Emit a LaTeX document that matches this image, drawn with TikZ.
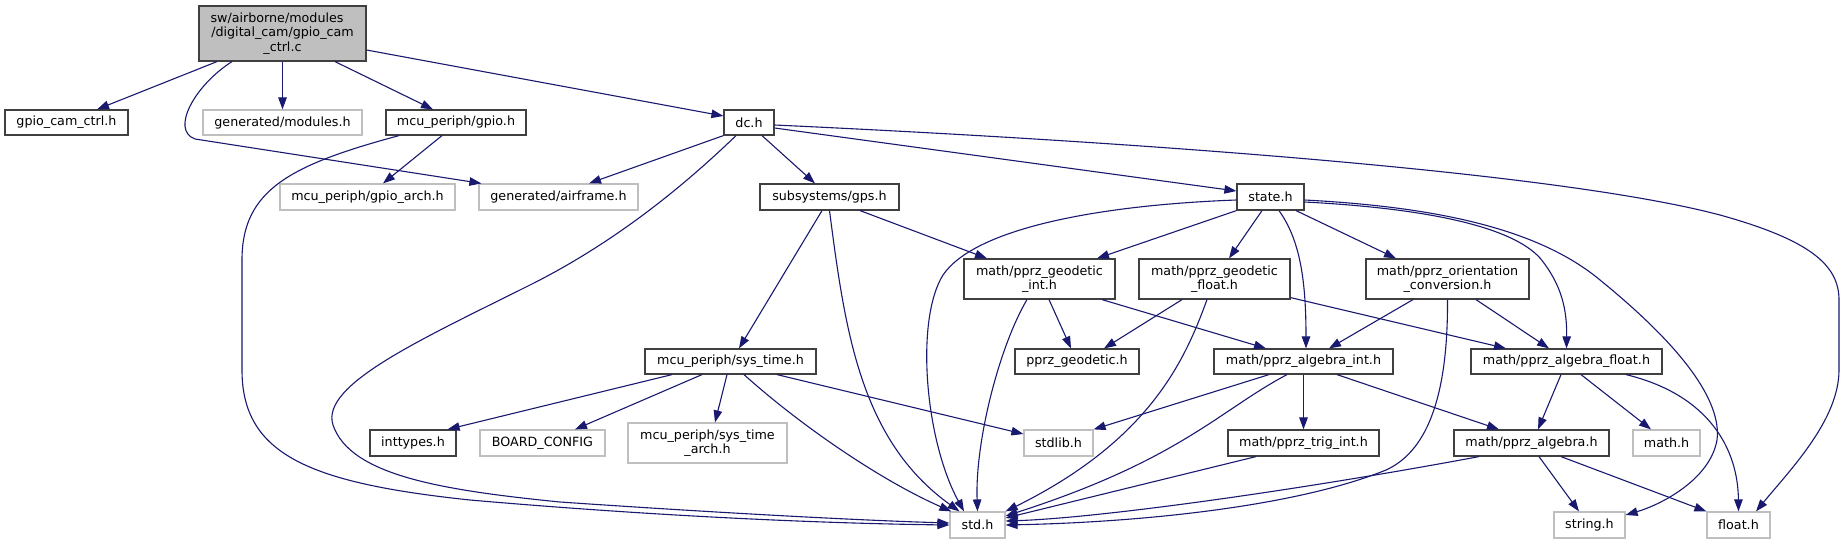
\documentclass[tikz,border=0pt]{standalone}
\usepackage{fontspec}
\setmainfont{DejaVu Sans}
\usetikzlibrary{arrows.meta}
\definecolor{edgec}{RGB}{25,25,112}
\definecolor{grayb}{RGB}{191,191,191}
\definecolor{boxb}{RGB}{64,64,64}
\begin{document}
\begin{tikzpicture}[x=1pt,y=-1pt,
  box/.style={draw=boxb,line width=1.2pt,inner sep=0pt,align=center,font=\fontsize{12.7}{14.5}\selectfont},
  gbox/.style={box,draw=grayb},
  mainbox/.style={box,fill=grayb},
  edge/.style={draw=edgec,line width=1.1pt,-{Triangle[length=12pt,width=8.5pt]}},
]
\useasboundingbox[fill=white] (0,0) rectangle (1845,544);
% nodes
\node[mainbox,minimum width=167pt,minimum height=55pt] (main) at (282.5,33.5) {\hspace*{-11pt}sw/airborne/modules\\/digital\_cam/gpio\_cam\\\_ctrl.c};
\node[box,minimum width=123pt,minimum height=25pt] (gcc) at (66.5,122.5) {gpio\_cam\_ctrl.h};
\node[gbox,minimum width=159pt,minimum height=25pt] (mods) at (282.5,122.5) {generated/modules.h};
\node[box,minimum width=140pt,minimum height=25pt] (gpio) at (456,122.5) {mcu\_periph/gpio.h};
\node[box,minimum width=50pt,minimum height=25pt] (dc) at (749,122.5) {dc.h};
\node[gbox,minimum width=175pt,minimum height=26pt] (garch) at (367.5,197) {mcu\_periph/gpio\_arch.h};
\node[gbox,minimum width=159pt,minimum height=26pt] (air) at (558.5,197) {generated/airframe.h};
\node[box,minimum width=139pt,minimum height=26pt] (gps) at (829.5,197) {subsystems/gps.h};
\node[box,minimum width=67pt,minimum height=26pt] (state) at (1270.5,197) {state.h};
\node[box,minimum width=151pt,minimum height=40pt] (gint) at (1039.5,279) {math/pprz\_geodetic\\\_int.h};
\node[box,minimum width=151pt,minimum height=40pt] (gflt) at (1214.5,279) {math/pprz\_geodetic\\\_float.h};
\node[box,minimum width=163pt,minimum height=40pt] (orient) at (1447.5,279) {math/pprz\_orientation\\\_conversion.h};
\node[box,minimum width=171pt,minimum height=25pt] (systime) at (730.5,361.5) {mcu\_periph/sys\_time.h};
\node[box,minimum width=124pt,minimum height=25pt] (pgeo) at (1077,361.5) {pprz\_geodetic.h};
\node[box,minimum width=179pt,minimum height=25pt] (aint) at (1303.5,361.5) {math/pprz\_algebra\_int.h};
\node[box,minimum width=191pt,minimum height=25pt] (aflt) at (1566.5,361.5) {math/pprz\_algebra\_float.h};
\node[box,minimum width=86pt,minimum height=26pt] (intt) at (413,443) {inttypes.h};
\node[gbox,minimum width=125pt,minimum height=26pt] (board) at (542.5,443) {BOARD\_CONFIG};
\node[gbox,minimum width=159pt,minimum height=40pt] (starch) at (707.5,443) {mcu\_periph/sys\_time\\\_arch.h};
\node[gbox,minimum width=69pt,minimum height=26pt] (stdlib) at (1058.5,443) {stdlib.h};
\node[box,minimum width=151pt,minimum height=26pt] (trig) at (1303.5,443) {math/pprz\_trig\_int.h};
\node[box,minimum width=155pt,minimum height=26pt] (alg) at (1531.5,443) {math/pprz\_algebra.h};
\node[gbox,minimum width=67pt,minimum height=26pt] (mathh) at (1666.5,443) {math.h};
\node[gbox,minimum width=55pt,minimum height=26pt] (std) at (977.5,525) {std.h};
\node[gbox,minimum width=71pt,minimum height=26pt] (str) at (1589.5,525) {string.h};
\node[gbox,minimum width=63pt,minimum height=26pt] (flt) at (1738.5,525) {float.h};
% edges from main
\draw[edge] ([xshift=-65.5pt]main.south) -- ([xshift=30.5pt]gcc.north);
\draw[edge] (main.south) -- (mods.north);
\draw[edge] ([xshift=52.5pt]main.south) -- ([xshift=-23pt]gpio.north);
\draw[edge] ([yshift=-16.5pt]main.east) -- ([yshift=6.5pt]dc.west);
\draw[edge] ([xshift=-50.5pt]main.south) .. controls (195,85) and (170,130) .. (195,139) -- ([xshift=3pt]air.north west);
% gpio
\draw[edge] ([xshift=-14pt]gpio.south) -- ([xshift=15.5pt]garch.north);
\draw[edge] ([xshift=-57pt]gpio.south) .. controls (290,165) and (242,190) .. (242,260) -- (242,370) .. controls (242,455) and (310,483) .. (470,500) .. controls (700,520) and (870,524) .. (std.west);
% dc
\draw[edge] (dc.south west) -- ([xshift=30.5pt]air.north);
\draw[edge] ([xshift=-13pt]dc.south) .. controls (690,180) and (620,240) .. (530,285) .. controls (420,340) and (320,385) .. (333,425) .. controls (350,475) and (440,490) .. (560,502) .. controls (750,515) and (880,521) .. ([yshift=2pt]std.west);
\draw[edge] ([xshift=13pt]dc.south) -- ([xshift=-14.5pt]gps.north);
\draw[edge] ([yshift=-5.5pt]dc.east) -- ([yshift=6pt]state.west);
\draw[edge] ([yshift=-2.5pt]dc.east) .. controls (1100,140) and (1550,170) .. (1720,215) .. controls (1810,240) and (1839,265) .. (1839,300) -- (1839,370) .. controls (1839,420) and (1790,470) .. ([xshift=17.5pt]flt.north);
% gps
\draw[edge] ([xshift=-7.5pt]gps.south) -- ([xshift=8.5pt]systime.north);
\draw[edge] (gps.south) .. controls (845,330) and (860,440) .. ([xshift=-18pt]std.north);
\draw[edge] ([xshift=30.5pt]gps.south) -- ([xshift=-52.5pt]gint.north);
% state
\draw[edge] ([yshift=-3pt]state.west) .. controls (1100,205) and (975,228) .. (943,275) .. controls (915,320) and (925,440) .. ([xshift=-13.5pt]std.north);
\draw[edge] (state.south west) -- ([xshift=57.5pt]gint.north);
\draw[edge] ([xshift=-8.5pt]state.south) -- ([xshift=14.5pt]gflt.north);
\draw[edge] ([xshift=8.5pt]state.south) .. controls (1300,240) and (1306,280) .. ([xshift=2.5pt]aint.north);
\draw[edge] ([xshift=25.5pt]state.south) -- ([xshift=-51.5pt]orient.north);
\draw[edge] ([yshift=-5pt]state.east) .. controls (1420,208) and (1510,225) .. (1540,258) .. controls (1562,285) and (1567,310) .. (aflt.north);
\draw[edge] ([yshift=-3pt]state.east) .. controls (1440,207) and (1540,230) .. (1600,280) .. controls (1680,345) and (1722,400) .. (1717,440) .. controls (1710,480) and (1660,505) .. ([yshift=10pt]str.east);
% geodetic int
\draw[edge] ([xshift=9.5pt]gint.south) -- ([xshift=-6pt]pgeo.north);
\draw[edge] ([xshift=62.5pt]gint.south) -- ([xshift=-37.5pt]aint.north);
\draw[edge] ([xshift=-12.5pt]gint.south) .. controls (1000,345) and (975,440) .. (std.north);
% geodetic float
\draw[edge] ([xshift=-32.5pt]gflt.south) -- ([xshift=27pt]pgeo.north);
\draw[edge] ([xshift=-7.5pt]gflt.south) .. controls (1185,360) and (1150,440) .. (std.north east);
\draw[edge] ([yshift=2pt]gflt.south east) -- ([xshift=-60.5pt]aflt.north);
% orientation
\draw[edge] ([xshift=-34.5pt]orient.south) -- ([xshift=25.5pt]aint.north);
\draw[edge] ([xshift=28.5pt]orient.south) -- ([xshift=-17.5pt]aflt.north);
\draw[edge] (orient.south) .. controls (1448,390) and (1430,450) .. (1386,470) .. controls (1300,505) and (1150,522) .. (std.east);
% sys_time
\draw[edge] ([xshift=-58.5pt]systime.south) -- ([xshift=-9pt]intt.north east);
\draw[edge] ([xshift=-28.5pt]systime.south) -- ([xshift=32.5pt]board.north);
\draw[edge] ([xshift=-3.5pt]systime.south) -- ([xshift=7.5pt]starch.north);
\draw[edge] ([xshift=13.5pt]systime.south) .. controls (800,425) and (880,480) .. ([xshift=2pt]std.north west);
\draw[edge] ([xshift=46.5pt]systime.south) -- ([yshift=9pt]stdlib.west);
% algebra int
\draw[edge] ([xshift=-34.5pt]aint.south) -- (stdlib.north east);
\draw[edge] ([xshift=-16.5pt]aint.south) .. controls (1220,410) and (1180,460) .. ([yshift=9pt]std.east);
\draw[edge] (aint.south) -- (trig.north);
\draw[edge] ([xshift=33.5pt]aint.south) -- ([xshift=-32.5pt]alg.north);
% algebra float
\draw[edge] ([xshift=-5.5pt]aflt.south) -- ([xshift=6.5pt]alg.north);
\draw[edge] ([xshift=14.5pt]aflt.south) -- ([xshift=-15.5pt]mathh.north);
\draw[edge] ([xshift=59.5pt]aflt.south) .. controls (1710,395) and (1738,450) .. (flt.north);
% trig, algebra
\draw[edge] ([xshift=-47.5pt]trig.south) -- ([yshift=7pt]std.east);
\draw[edge] ([xshift=-52.5pt]alg.south) .. controls (1300,490) and (1100,518) .. ([yshift=4pt]std.east);
\draw[edge] ([xshift=7.5pt]alg.south) -- ([xshift=-10.5pt]str.north);
\draw[edge] ([xshift=29.5pt]alg.south) -- (flt.north west);
\end{tikzpicture}
\end{document}
